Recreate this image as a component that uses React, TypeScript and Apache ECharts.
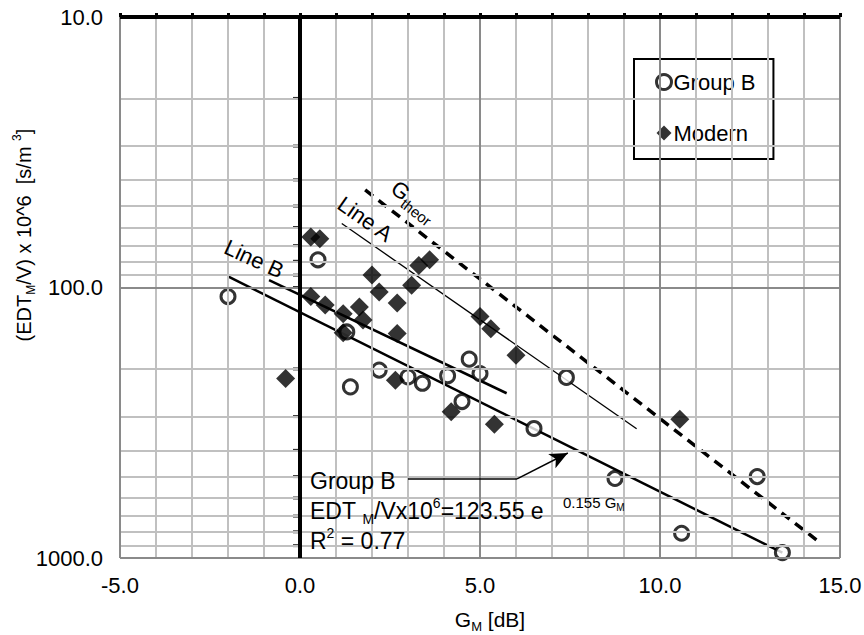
import React, { useEffect, useRef } from "react";
import * as echarts from "echarts";

const FONT = "'Liberation Sans', Arial, sans-serif";

// Group B: [G_M (dB), EDT_M/V x 10^6]
const groupBPoints: number[][] = [
  [-2.0, 108], [0.5, 79], [1.3, 146], [1.4, 233], [2.2, 202], [3.0, 214],
  [3.4, 226], [4.1, 212], [4.5, 264], [4.7, 184], [5.0, 208], [6.5, 332],
  [7.4, 215], [8.75, 508], [10.6, 810], [12.7, 500], [13.4, 955],
];

// Modern halls
const modernPoints: number[][] = [
  [-0.4, 217], [0.3, 65], [0.55, 66], [0.3, 108], [0.7, 116], [1.2, 125],
  [1.2, 147], [1.65, 118], [1.75, 132], [2.0, 90], [2.2, 104], [2.65, 220],
  [2.7, 114], [2.7, 148], [3.1, 98], [3.3, 83], [3.6, 79], [4.2, 288],
  [5.0, 128], [5.3, 142], [5.4, 320], [6.0, 178], [10.55, 307],
];

// Lines (end points)
const groupBFit: number[][] = [[-2.0, 91], [13.4, 956]];
const lineB: number[][] = [[-0.86, 94], [5.74, 246]];
const lineA: number[][] = [[1.16, 58], [9.35, 333]];
const gTheor: number[][] = [[1.81, 43.6], [14.49, 887]];

// Arrow annotation (Group B label leader)
const leaderLine: number[][] = [[3.0, 510], [6.03, 510]];
const leaderArrow: number[][] = [[6.03, 510], [7.44, 409]];

// Axis / grid values
const xMin = -5;
const xMax = 15;
const xStep = 5;
const xMinorGrid = [-4, -3, -2, -1, 1, 2, 3, 4, 6, 7, 8, 9, 11, 12, 13, 14];
const xMajorGrid = [5, 10];
const xBorders = [-5, 15];
const yMin = 10;
const yMax = 1000;
const yMinorGrid = [20, 30, 40, 50, 60, 70, 80, 90, 200, 300, 400, 500, 600, 700, 800, 900];
const yMajorGrid = [100];
const yBottom = [1000];
const yAxisTicks = [20, 30, 40, 50, 60, 70, 80, 90, 100, 200, 300, 400, 500, 600, 700, 800, 900];

const LIGHT = "#c0c0c0";
const DARK = "#8a8a8a";

export default function App() {
  const ref = useRef<HTMLDivElement>(null);

  useEffect(() => {
    if (!ref.current) return;
    const chart = echarts.init(ref.current, null, { renderer: "svg" });

    const vLine = (v: number, color: string, width: number) => ({
      xAxis: v,
      lineStyle: { color, width, type: "solid" },
    });
    const hLine = (v: number, color: string, width: number) => ({
      yAxis: v,
      lineStyle: { color, width, type: "solid" },
    });

    const option: any = {
      animation: false,
      backgroundColor: "#fff",
      grid: {
        left: 120,
        top: 17,
        width: 720,
        height: 541,
        outerBoundsMode: "none",
        containLabel: false,
      },
      legend: {
        left: 634,
        top: 59,
        orient: "vertical",
        selectedMode: false,
        backgroundColor: "#fff",
        borderColor: "#000",
        borderWidth: 2,
        borderRadius: 0,
        padding: [11, 18, 14, 21],
        itemGap: 27,
        itemWidth: 15,
        itemHeight: 15,
        textStyle: { fontSize: 22, fontFamily: FONT, color: "#000", lineHeight: 24, padding: [0, 0, 0, -3] },
        data: [
          { name: "Group B", icon: "circle", itemStyle: { color: "#fff", borderColor: "#000", borderWidth: 3 } },
          { name: "Modern", icon: "diamond", itemStyle: { color: "#000", borderWidth: 0 } },
        ],
      },
      xAxis: [
        {
          type: "value",
          min: xMin,
          max: xMax,
          interval: xStep,
          position: "bottom",
          axisLine: { show: false, onZero: false },
          axisTick: { show: false },
          splitLine: { show: false },
          axisLabel: {
            formatter: (v: number) => v.toFixed(1),
            fontSize: 22,
            fontFamily: FONT,
            color: "#000",
            margin: 16,
          },
        },
        {
          type: "value",
          min: xMin,
          max: xMax,
          interval: 1,
          position: "top",
          axisLine: { show: false, onZero: false },
          axisTick: { show: true, length: 4, lineStyle: { color: "#000", width: 3 } },
          axisLabel: { show: false },
          splitLine: { show: false },
        },
      ],
      yAxis: [
        {
          type: "log",
          logBase: 10,
          min: yMin,
          max: yMax,
          inverse: true,
          axisLine: { show: false, onZero: false },
          axisTick: { show: false },
          splitLine: { show: false },
          axisLabel: {
            formatter: (v: number) => Number(v).toFixed(1),
            fontSize: 22,
            fontFamily: FONT,
            color: "#000",
            margin: 17,
          },
        },
      ],
      series: [
        {
          name: "grid",
          type: "line",
          data: [],
          z: 1,
          silent: true,
          markLine: {
            silent: true,
            symbol: ["none", "none"],
            label: { show: false },
            emphasis: { disabled: true },
            data: [
              ...xMinorGrid.map((v) => vLine(v, LIGHT, 2)),
              ...yMinorGrid.map((v) => hLine(v, LIGHT, 2)),
              ...xMajorGrid.map((v) => vLine(v, DARK, 2)),
              ...yMajorGrid.map((v) => hLine(v, DARK, 2)),
              ...xBorders.map((v) => vLine(v, DARK, 2)),
              ...yBottom.map((v) => hLine(v, DARK, 2)),
            ],
          },
        },
        {
          name: "axes",
          type: "line",
          data: [],
          z: 2,
          silent: true,
          markLine: {
            silent: true,
            symbol: ["none", "none"],
            label: { show: false },
            emphasis: { disabled: true },
            data: [vLine(0, "#000", 4), hLine(yMin, "#000", 4)],
          },
        },
        {
          name: "yticks",
          type: "scatter",
          data: yAxisTicks.map((v) => [0, v]),
          symbol: "rect",
          symbolSize: [5, 3],
          symbolOffset: [-4.5, 0],
          itemStyle: { color: "#000" },
          silent: true,
          z: 2,
        },
        {
          name: "Group B fit",
          type: "line",
          data: groupBFit,
          symbol: "none",
          lineStyle: { color: "#000", width: 2.5 },
          silent: true,
          z: 3,
        },
        {
          name: "Line B",
          type: "line",
          data: lineB,
          symbol: "none",
          lineStyle: { color: "#000", width: 2.5 },
          silent: true,
          z: 3,
        },
        {
          name: "Line A",
          type: "line",
          data: lineA,
          symbol: "none",
          lineStyle: { color: "#000", width: 1.3 },
          silent: true,
          z: 3,
        },
        {
          name: "G theor",
          type: "line",
          data: gTheor,
          symbol: "none",
          lineStyle: { color: "#000", width: 3.5, type: [10, 7] },
          silent: true,
          z: 3,
        },
        {
          name: "leader",
          type: "line",
          data: [],
          z: 3,
          silent: true,
          markLine: {
            silent: true,
            symbol: ["none", "none"],
            label: { show: false },
            emphasis: { disabled: true },
            lineStyle: { color: "#000", width: 1.5, type: "solid" },
            data: [
              [{ coord: leaderLine[0] }, { coord: leaderLine[1] }],
              [
                { coord: leaderArrow[0], symbol: "none" },
                { coord: leaderArrow[1], symbol: "arrow", symbolSize: [12, 18] },
              ],
            ],
          },
        },
        {
          name: "Group B",
          type: "scatter",
          data: groupBPoints,
          symbol: "circle",
          symbolSize: 14,
          itemStyle: { color: "#fff", borderColor: "#000", borderWidth: 3 },
          z: 4,
        },
        {
          name: "Modern",
          type: "scatter",
          data: modernPoints,
          symbol: "diamond",
          symbolSize: 19,
          itemStyle: { color: "#000" },
          z: 5,
        },
      ],
      graphic: [
        {
          type: "text",
          x: 24,
          y: 235,
          rotation: Math.PI / 2,
          z: 10,
          style: {
            text: "(EDT{sub|M}/V) x 10^6  [s/m {sup|3}]",
            fontSize: 20,
            fontFamily: FONT,
            fill: "#000",
            align: "center",
            verticalAlign: "middle",
            lineHeight: 26,
            rich: {
              sub: { fontSize: 12, fontFamily: FONT, fill: "#000", verticalAlign: "bottom", lineHeight: 14 },
              sup: { fontSize: 12, fontFamily: FONT, fill: "#000", verticalAlign: "top", lineHeight: 14 },
            },
          },
        },
        {
          type: "text",
          x: 490,
          y: 619,
          z: 10,
          style: {
            text: "G{sub|M} [dB]",
            fontSize: 21,
            fontFamily: FONT,
            fill: "#000",
            align: "center",
            verticalAlign: "middle",
            lineHeight: 28,
            rich: {
              sub: { fontSize: 13, fontFamily: FONT, fill: "#000", verticalAlign: "bottom", lineHeight: 14 },
            },
          },
        },
        {
          type: "text",
          x: 254,
          y: 259,
          rotation: -0.43,
          z: 10,
          style: {
            text: "Line B",
            fontSize: 22,
            fontFamily: FONT,
            fill: "#000",
            align: "center",
            verticalAlign: "middle",
          },
        },
        {
          type: "text",
          x: 365,
          y: 219,
          rotation: -0.61,
          z: 10,
          style: {
            text: "Line A",
            fontSize: 22,
            fontFamily: FONT,
            fill: "#000",
            align: "center",
            verticalAlign: "middle",
          },
        },
        {
          type: "text",
          x: 414,
          y: 201,
          rotation: -0.66,
          z: 10,
          style: {
            text: "G{sub|theor}",
            fontSize: 22,
            fontFamily: FONT,
            fill: "#000",
            align: "center",
            verticalAlign: "middle",
            lineHeight: 30,
            rich: {
              sub: { fontSize: 15, fontFamily: FONT, fill: "#000", verticalAlign: "bottom", lineHeight: 16 },
            },
          },
        },
        {
          type: "text",
          x: 310,
          y: 481,
          z: 10,
          style: {
            text: "Group B",
            fontSize: 23,
            fontFamily: FONT,
            fill: "#000",
            align: "left",
            verticalAlign: "middle",
          },
        },
        {
          type: "text",
          x: 310,
          y: 511,
          z: 10,
          style: {
            text: "EDT {sub|M}/Vx10{sup|6}=123.55 e",
            fontSize: 23,
            fontFamily: FONT,
            fill: "#000",
            align: "left",
            verticalAlign: "middle",
            lineHeight: 30,
            rich: {
              sub: { fontSize: 14, fontFamily: FONT, fill: "#000", verticalAlign: "bottom", lineHeight: 14 },
              sup: { fontSize: 14, fontFamily: FONT, fill: "#000", verticalAlign: "top", lineHeight: 14 },
            },
          },
        },
        {
          type: "text",
          x: 563,
          y: 502,
          z: 10,
          style: {
            text: "0.155 G{m|M}",
            fontSize: 15,
            fontFamily: FONT,
            fill: "#000",
            align: "left",
            verticalAlign: "middle",
            lineHeight: 20,
            rich: {
              m: { fontSize: 10, fontFamily: FONT, fill: "#000", verticalAlign: "bottom", lineHeight: 11 },
            },
          },
        },
        {
          type: "text",
          x: 310,
          y: 541,
          z: 10,
          style: {
            text: "R{sup|2} = 0.77",
            fontSize: 23,
            fontFamily: FONT,
            fill: "#000",
            align: "left",
            verticalAlign: "middle",
            lineHeight: 30,
            rich: {
              sup: { fontSize: 14, fontFamily: FONT, fill: "#000", verticalAlign: "top", lineHeight: 14 },
            },
          },
        },
      ],
    };

    chart.setOption(option);
    return () => chart.dispose();
  }, []);

  return (
    <div
      ref={ref}
      style={{ position: "absolute", left: 0, top: 0, width: 864, height: 635, background: "#fff" }}
    />
  );
}
